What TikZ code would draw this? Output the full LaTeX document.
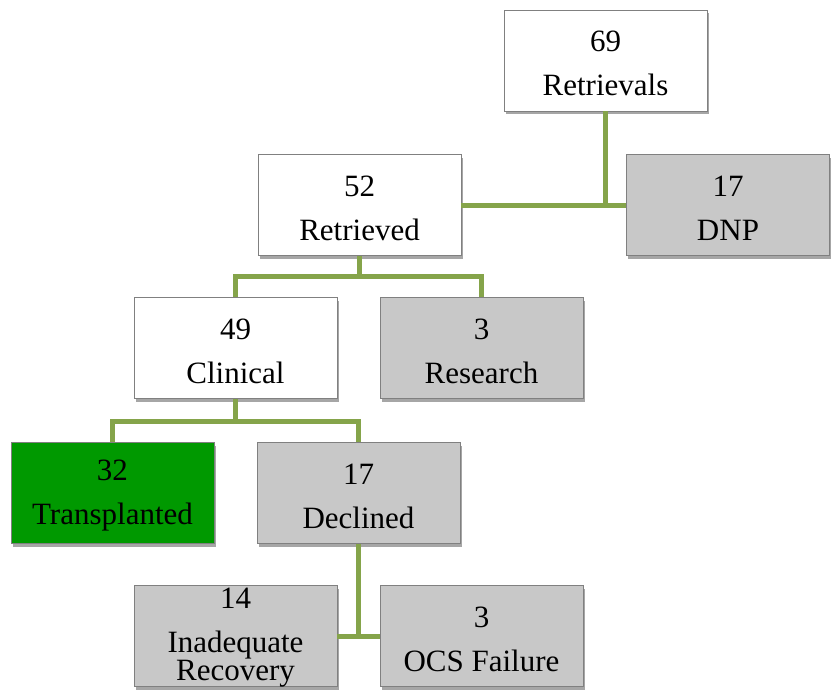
\documentclass[tikz,border=0pt]{standalone}
\usepackage{fontspec}
\setmainfont{Liberation Serif}
\usetikzlibrary{shadows}
\definecolor{conngreen}{RGB}{133,164,74}
\definecolor{boxgray}{RGB}{200,200,200}
\definecolor{boxgreen}{RGB}{0,153,0}
\definecolor{edgegray}{RGB}{128,128,128}
\tikzset{
  box/.style={draw=edgegray, line width=0.8pt, minimum width=203pt, minimum height=101pt,
    inner sep=0pt,
    drop shadow={shadow xshift=1.5pt, shadow yshift=-3pt, opacity=0.35, fill=black}},
  whitebox/.style={box, fill=white},
  graybox/.style={box, fill=boxgray},
  greenbox/.style={box, fill=boxgreen},
  txt/.style={inner sep=0pt, align=center, font=\fontsize{31}{44}\selectfont},
  conn/.style={draw=conngreen, line width=5pt}
}
\begin{document}
\begin{tikzpicture}[x=1pt,y=-1pt]
\useasboundingbox (0,0) rectangle (831,689);
\node[whitebox] (ret) at (605.5,60.5) {};
\node[graybox] (dnp) at (728,205) {};
\node[whitebox] (rtv) at (359.5,205) {};
\node[whitebox] (cli) at (235.5,348) {};
\node[graybox] (res) at (481.5,348) {};
\node[greenbox] (tra) at (112.5,493) {};
\node[graybox] (dec) at (358.5,493) {};
\node[graybox] (ina) at (235.5,636) {};
\node[graybox] (ocs) at (481.5,636) {};
\node[txt] (ret-t) at ([yshift=-3pt]ret.center) {69\\Retrievals};
\node[txt] (dnp-t) at ([yshift=-3pt]dnp.center) {17\\DNP};
\node[txt] (rtv-t) at ([yshift=-3pt]rtv.center) {52\\Retrieved};
\node[txt] (cli-t) at ([yshift=-3pt]cli.center) {49\\Clinical};
\node[txt] (res-t) at ([yshift=-3pt]res.center) {3\\Research};
\node[txt] (tra-t) at ([yshift=-3pt]tra.center) {32\\Transplanted};
\node[txt] (dec-t) at ([yshift=-3pt]dec.center) {17\\Declined};
\node[txt] (ina-t) at ([yshift=-2pt]ina.center) {14\\Inadequate\\[-16pt]Recovery};
\node[txt] (ocs-t) at ([yshift=-3pt]ocs.center) {3\\OCS Failure};
\coordinate (j0) at (ret.south |- dnp.west);
\coordinate (j1) at ([yshift=-21pt]rtv.south);
\coordinate (j2) at ([yshift=-23pt]cli.south);
\coordinate (j3) at (dec.south |- ina.east);
\draw[conn] (ret.south) -- (j0);
\draw[conn] (rtv.east) -- (dnp.west);
\draw[conn] (rtv.south) -- (j1);
\draw[conn] (cli.north) |- (j1) -| (res.north);
\draw[conn] (cli.south) -- (j2);
\draw[conn] (tra.north) |- (j2) -| (dec.north);
\draw[conn] (dec.south) -- (j3);
\draw[conn] (ina.east) -- (ocs.west);
\end{tikzpicture}
\end{document}
